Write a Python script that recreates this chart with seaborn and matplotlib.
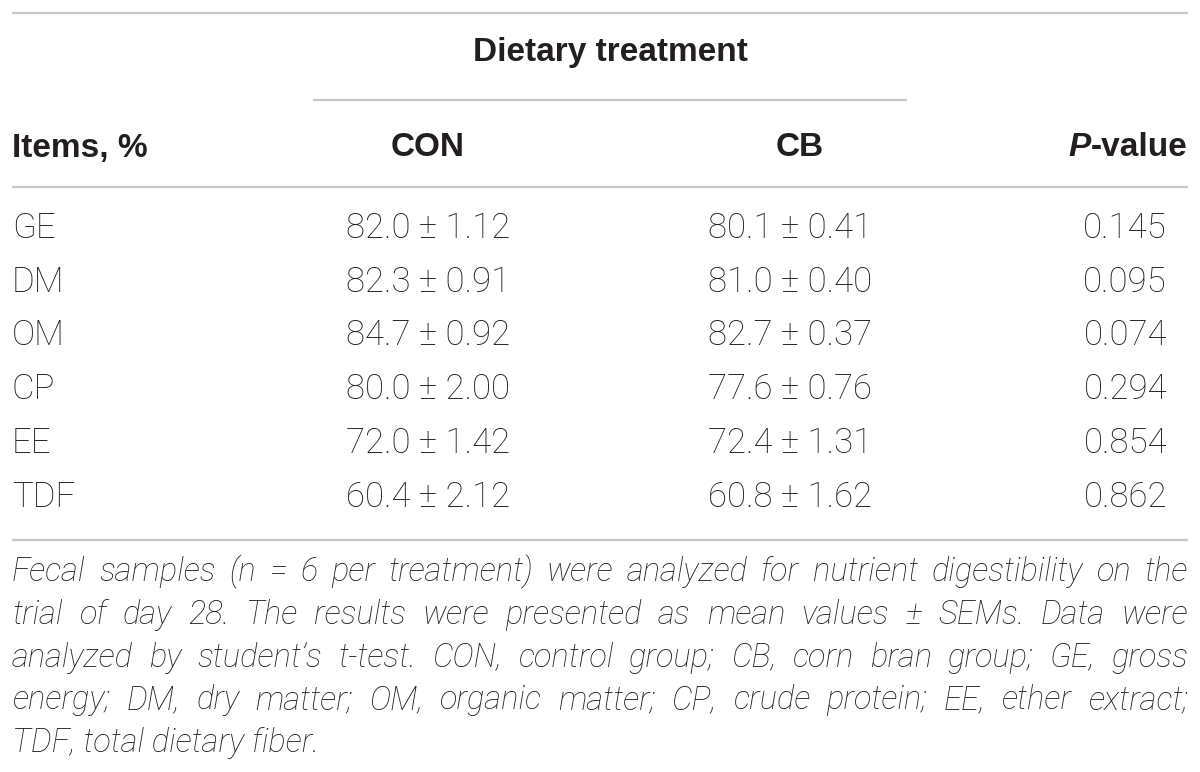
import matplotlib
matplotlib.use('Agg')
import matplotlib.pyplot as plt
import seaborn as sns

# table data
items = ['GE', 'DM', 'OM', 'CP', 'EE', 'TDF']
con_mean = [82.0, 82.3, 84.7, 80.0, 72.0, 60.4]
con_sem = [1.12, 0.91, 0.92, 2.00, 1.42, 2.12]
cb_mean = [80.1, 81.0, 82.7, 77.6, 72.4, 60.8]
cb_sem = [0.41, 0.40, 0.37, 0.76, 1.31, 1.62]
p_values = [0.145, 0.095, 0.074, 0.294, 0.854, 0.862]

group_title = 'Dietary treatment'
col_headers = ['Items, %', 'CON', 'CB']
footnote_lines = [
    'Fecal samples (n = 6 per treatment) were analyzed for nutrient digestibility on the',
    'trial of day 28. The results were presented as mean values \u00b1 SEMs. Data were',
    'analyzed by student\u2019s t-test. CON, control group; CB, corn bran group; GE, gross',
    'energy; DM, dry matter; OM, organic matter; CP, crude protein; EE, ether extract;',
    'TDF, total dietary fiber.',
]

sns.set_theme(style='white')
plt.rcParams['font.family'] = ['Liberation Sans', 'DejaVu Sans']

txt = '#231f20'
rule = '#c8c8c8'
fs = 24
light = ['Roboto', 'Liberation Sans', 'DejaVu Sans']

fig = plt.figure(figsize=(12, 7.72), dpi=100)
ax = fig.add_axes([0, 0, 1, 1])
ax.set_xlim(0, 1200)
ax.set_ylim(772, 0)
ax.axis('off')

# rules
ax.hlines([13, 187, 540], 12, 1188, color=rule, lw=1.6)
ax.hlines(100, 313, 907, color=rule, lw=1.6)

# header
ax.text(610, 52, group_title, ha='center', va='center', fontsize=fs, fontweight='bold', color=txt)
ax.text(12, 148, col_headers[0], ha='left', va='center', fontsize=fs, fontweight='bold', color=txt)
ax.text(428, 148, col_headers[1], ha='center', va='center', fontsize=fs, fontweight='bold', color=txt)
ax.text(800, 148, col_headers[2], ha='center', va='center', fontsize=fs, fontweight='bold', color=txt)

fig.canvas.draw()
renderer = fig.canvas.get_renderer()
inv = ax.transData.inverted()


def width_of(t):
    bb = t.get_window_extent(renderer)
    x0 = inv.transform((bb.x0, bb.y0))[0]
    x1 = inv.transform((bb.x1, bb.y0))[0]
    return x1 - x0


pv = ax.text(1187, 148, '-value', ha='right', va='center', fontsize=fs, fontweight='bold', color=txt)
w = width_of(pv)
ax.text(1187 - w, 148, 'P', ha='right', va='center', fontsize=fs, fontweight='bold',
        fontstyle='italic', color=txt)

# body rows
row_y0 = 228
row_step = 53.8
for i, name in enumerate(items):
    y = row_y0 + i * row_step
    kw = dict(va='center', fontsize=25, color=txt, family=light, fontweight='light')
    ax.text(12, y, name, ha='left', **kw)
    ax.text(428, y, f'{con_mean[i]:.1f} \u00b1 {con_sem[i]:.2f}', ha='center', **kw)
    ax.text(790, y, f'{cb_mean[i]:.1f} \u00b1 {cb_sem[i]:.2f}', ha='center', **kw)
    ax.text(1167, y, f'{p_values[i]:.3f}', ha='right', **kw)

# footnote, justified
fn_fs = 23.5
fn_kw = dict(ha='left', va='center', fontsize=fn_fs, fontstyle='italic', fontweight='light',
             family=light, color=txt)
left, right = 12, 1188
for j, line in enumerate(footnote_lines):
    y = 572 + j * 42.8
    words = line.split(' ')
    if j == len(footnote_lines) - 1:
        ax.text(left, y, line, **fn_kw)
        continue
    arts = [ax.text(0, y, wd, **fn_kw) for wd in words]
    widths = [width_of(a) for a in arts]
    gap = (right - left - sum(widths)) / (len(words) - 1)
    x = left
    for a, wd in zip(arts, widths):
        a.set_x(x)
        x += wd + gap

fig.savefig('out.png', dpi=100)
